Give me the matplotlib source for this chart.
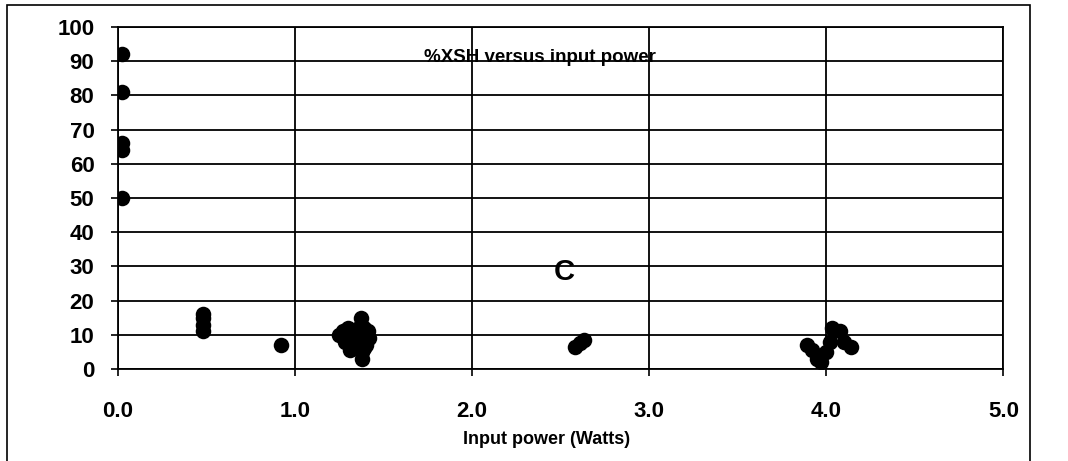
import matplotlib.pyplot as plt
from matplotlib.patches import Rectangle

# === Dados (potência em W, %XSH) ===
potencia = [0.02, 0.02, 0.02, 0.02, 0.02,
            0.48, 0.48, 0.48, 0.48,
            0.92,
            1.25, 1.27, 1.28, 1.29, 1.30, 1.30, 1.31, 1.32, 1.33, 1.33, 1.34, 1.35,
            1.36, 1.36, 1.37, 1.37, 1.38, 1.38, 1.39, 1.39, 1.40, 1.40, 1.41, 1.42,
            2.58, 2.61, 2.63,
            3.89, 3.92, 3.95, 3.97, 4.00, 4.02, 4.03, 4.08, 4.10, 4.14]
xsh = [92, 81, 66, 64, 50,
       16, 15, 13, 11,
       7,
       10, 11, 8, 10.5, 12, 9, 5.5, 7, 11, 8.5, 6, 10,
       8, 12, 15, 13, 5, 3, 12, 6, 10, 7, 11, 9,
       6.5, 7.5, 8.5,
       7, 5.5, 3, 2, 5, 8, 12, 11, 8, 6.5]

ticks_x = [0, 1, 2, 3, 4, 5]
ticks_y = list(range(0, 101, 10))
titulo = "%XSH versus input power"
rotulo_x = "Input power (Watts)"

fonte = ["Liberation Sans", "DejaVu Sans"]

# === Figura ===
fig = plt.figure(figsize=(10.68, 4.61), dpi=100)
ax = fig.add_axes([0.1105, 0.1996, 0.829, 0.7418])

ax.scatter(potencia, xsh, s=125, color="black", zorder=3, linewidths=0)

ax.set_xlim(0, 5)
ax.set_ylim(0, 100)
ax.set_xticks(ticks_x)
ax.set_yticks(ticks_y)
ax.set_xticklabels([f"{v:.1f}" for v in ticks_x], fontfamily=fonte, fontweight="bold", fontsize=16)
ax.set_yticklabels([str(v) for v in ticks_y], fontfamily=fonte, fontweight="bold", fontsize=16)
ax.tick_params(axis="x", direction="out", length=5, width=1.2, pad=18)
ax.tick_params(axis="y", direction="out", length=5, width=1.2, pad=12)

ax.grid(True, color="black", linewidth=1.3)
ax.set_axisbelow(True)
for lado in ax.spines.values():
    lado.set_color("black")
    lado.set_linewidth(1.3)

ax.set_xlabel(rotulo_x, fontfamily=fonte, fontweight="bold", fontsize=13)
ax.xaxis.set_label_coords(0.484, -0.18)
ax.text(0.477, 0.912, titulo, transform=ax.transAxes, ha="center", va="center",
        fontfamily=fonte, fontweight="bold", fontsize=13.5)
ax.text(2.52, 28.4, "C", ha="center", va="center",
        fontfamily=fonte, fontweight="bold", fontsize=21)

# === Moldura externa ===
fig.patches.append(Rectangle((7 / 1068, -0.05), 1023 / 1068, 1.05 - 5 / 461,
                             transform=fig.transFigure, fill=False,
                             edgecolor="black", linewidth=1.2))

fig.savefig("out.png", dpi=100)
plt.close(fig)
